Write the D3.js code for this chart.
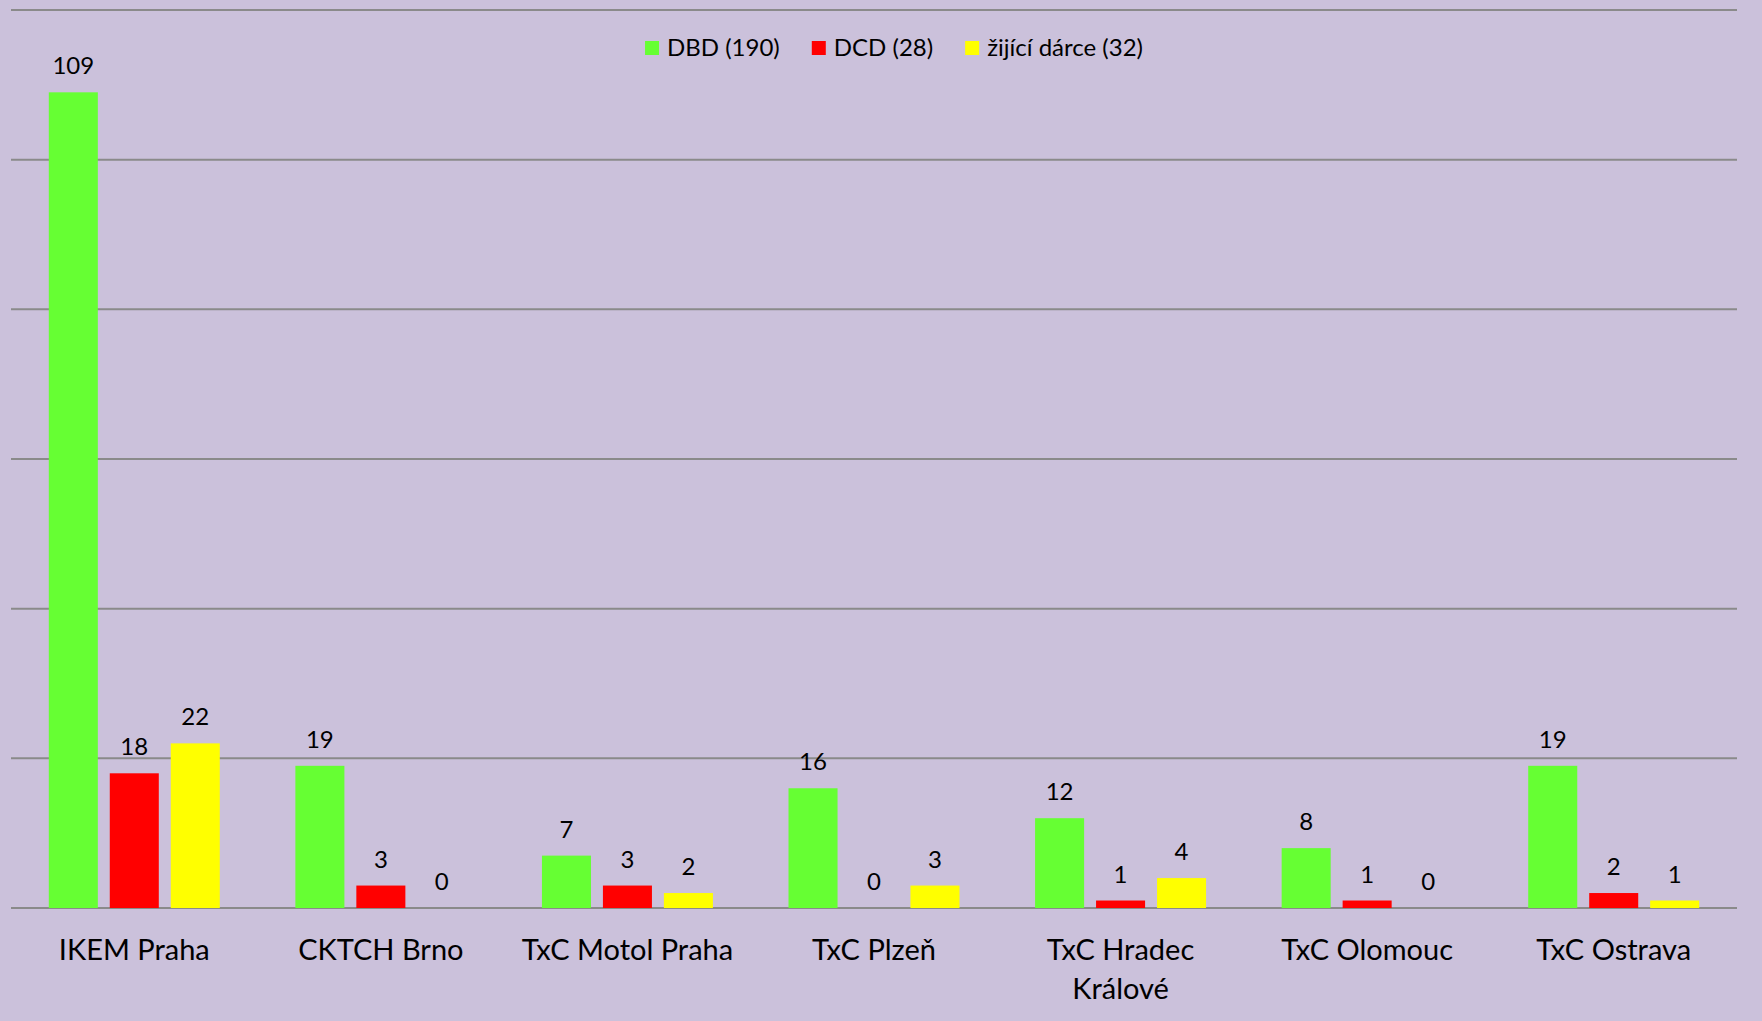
<!DOCTYPE html>
<html>
<head>
<meta charset="utf-8">
<script src="https://cdn.jsdelivr.net/npm/d3@7"></script>
<style>
	body { margin: 0; background: #cbc1db; }
	svg { display: block; font-family: Lato, "Open Sans", sans-serif; }
</style>
</head>
<body>
<div id="chart"></div>
<script>
// data
const centers = ['IKEM Praha', 'CKTCH Brno', 'TxC Motol Praha', 'TxC Plzeň', 'TxC Hradec Králové', 'TxC Olomouc', 'TxC Ostrava'];
const seriesNames = ['DBD', 'DCD', 'žijící dárce'];
const dbd = [109, 19, 7, 16, 12, 8, 19];
const dcd = [18, 3, 3, 0, 1, 1, 2];
const living = [22, 0, 2, 3, 4, 0, 1];
const yTicks = [0, 20, 40, 60, 80, 100, 120];
const colors = ['#66ff33', '#ff0000', '#ffff00'];

const seriesValues = [dbd, dcd, living];

const w = 1762;
const h = 1021;
const margin = {top: 10, right: 25, bottom: 113, left: 11};

const svg = d3.select('#chart').append('svg')
	.attr('width', w)
	.attr('height', h);

svg.append('rect')
	.attr('width', w)
	.attr('height', h)
	.style('fill', '#cbc1db');

//Scales
const x0 = d3.scaleBand()
	.domain(centers)
	.range([margin.left, w - margin.right])
	.paddingInner(0.3066)
	.paddingOuter(0.1533);

const x1 = d3.scaleBand()
	.domain(seriesNames)
	.range([0, x0.bandwidth()])
	.paddingInner(0.196);

const y = d3.scaleLinear()
	.domain([0, 120])
	.range([h - margin.bottom, margin.top]);

//Gridlines
svg.append('g')
	.selectAll('line')
	.data(yTicks)
	.enter()
	.append('line')
	.attr('x1', margin.left)
	.attr('x2', w - margin.right)
	.attr('y1', d => y(d))
	.attr('y2', d => y(d))
	.style('stroke', '#8a8a8a')
	.style('stroke-width', '2px');

//Bars
const rows = [];
centers.forEach(function(c, i){
	seriesNames.forEach(function(s, j){
		rows.push({center: c, series: s, value: seriesValues[j][i], color: colors[j]});
	});
});

const bars = svg.append('g');

bars.selectAll('rect')
	.data(rows)
	.enter()
	.append('rect')
	.attr('x', d => x0(d.center) + x1(d.series))
	.attr('y', d => y(d.value))
	.attr('width', x1.bandwidth())
	.attr('height', d => y(0) - y(d.value))
	.style('fill', d => d.color);

//Value labels
bars.selectAll('text')
	.data(rows)
	.enter()
	.append('text')
	.attr('x', d => x0(d.center) + x1(d.series) + x1.bandwidth() / 2)
	.attr('y', d => y(d.value) - 18)
	.attr('text-anchor', 'middle')
	.style('font-size', '24px')
	.style('fill', '#000')
	.text(d => d.value);

//Category labels (wrapped like the original)
const xAxis = svg.append('g');
centers.forEach(function(c){
	const cx = x0(c) + x0.bandwidth() / 2;
	const t = xAxis.append('text')
		.attr('x', cx)
		.attr('y', 960)
		.attr('text-anchor', 'middle')
		.style('font-size', '29px')
		.style('fill', '#000');
	const words = c.split(' ');
	let line = [];
	let tspan = t.append('tspan').attr('x', cx);
	words.forEach(function(word){
		line.push(word);
		tspan.text(line.join(' '));
		if (tspan.node().getComputedTextLength() > 236 && line.length > 1) {
			line.pop();
			tspan.text(line.join(' '));
			line = [word];
			tspan = t.append('tspan')
				.attr('x', cx)
				.attr('dy', 39)
				.text(word);
		}
	});
});

//Legend
const legend = svg.append('g');
let lx = 0;
seriesNames.forEach(function(s, j){
	const item = legend.append('g').attr('transform', `translate(${lx},0)`);
	item.append('rect')
		.attr('x', 0)
		.attr('y', -7)
		.attr('width', 14)
		.attr('height', 14)
		.style('fill', colors[j]);
	const label = item.append('text')
		.attr('x', 22)
		.attr('y', 8)
		.style('font-size', '24px')
		.style('fill', '#000')
		.text(`${s} (${d3.sum(seriesValues[j])})`);
	lx += 22 + label.node().getComputedTextLength() + 32;
});
const legendWidth = lx - 32;
legend.attr('transform', `translate(${894 - legendWidth / 2},48)`);
</script>
</body>
</html>
